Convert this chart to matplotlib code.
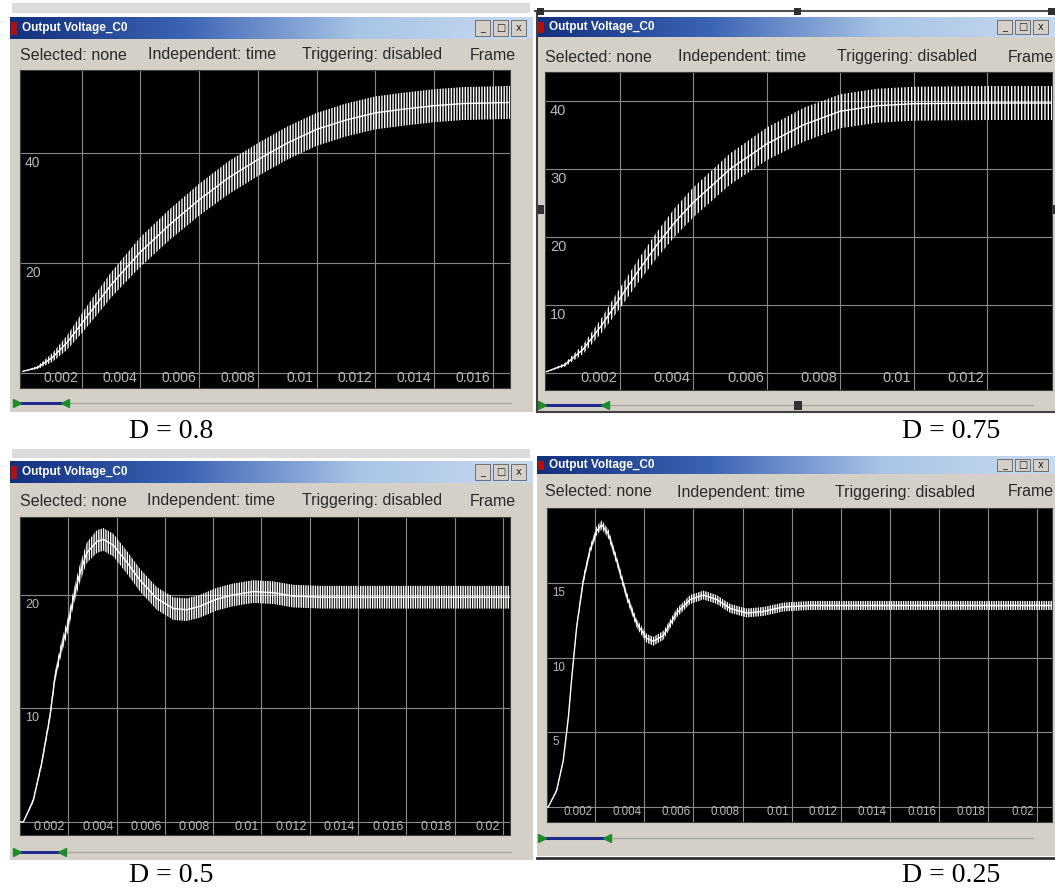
import numpy as np
import matplotlib
matplotlib.use("Agg")
import matplotlib.pyplot as plt
from matplotlib.patches import Rectangle
from matplotlib.colors import LinearSegmentedColormap
import matplotlib.transforms as mtransforms

plt.rcParams["hatch.linewidth"] = 1.0
plt.rcParams["hatch.color"] = "white"

W, H = 1055, 894

# output voltage: time (s), middle of the band (V), half ripple (V)
t_080 = [0, 0.0005, 0.001, 0.0015, 0.002, 0.0025, 0.003, 0.0035, 0.004, 0.005, 0.006,
         0.007, 0.008, 0.009, 0.010, 0.011, 0.012, 0.013, 0.014, 0.015, 0.0166]
v_080 = [0.3, 1.0, 2.8, 5.5, 9.0, 12.5, 16.0, 19.0, 22.0, 27.0, 31.5,
         35.5, 38.8, 41.8, 44.3, 46.0, 47.3, 48.0, 48.6, 49.0, 49.2]
r_080 = [0, 0.3, 0.8, 1.3, 1.8, 2.1, 2.3, 2.5, 2.7, 2.8, 2.9,
         3.0, 3.0, 3.0, 3.0, 3.0, 3.0, 3.0, 3.0, 3.0, 3.0]

t_075 = [0, 0.0005, 0.001, 0.0015, 0.002, 0.0025, 0.003, 0.0035, 0.004, 0.005, 0.006,
         0.007, 0.008, 0.009, 0.010, 0.012, 0.0138]
v_075 = [0.2, 1.2, 3.5, 7.0, 11.0, 15.0, 18.8, 22.2, 25.1, 30.0, 33.7,
         36.5, 38.5, 39.3, 39.6, 39.7, 39.7]
r_075 = [0, 0.3, 0.7, 1.1, 1.5, 1.7, 1.9, 2.1, 2.2, 2.3, 2.4,
         2.5, 2.5, 2.5, 2.5, 2.5, 2.5]

t_050 = [0, 0.00014, 0.00055, 0.0009, 0.00124, 0.00145, 0.00172, 0.0020, 0.0022, 0.00248,
         0.00276, 0.00318, 0.00345, 0.00386, 0.00442, 0.00497, 0.00566, 0.00635, 0.0069,
         0.00745, 0.0081, 0.0088, 0.00966, 0.0105, 0.0113, 0.0125, 0.014, 0.016, 0.018, 0.0203]
v_050 = [0, 0, 1.9, 5.2, 9.3, 12.8, 15.4, 17.5, 19.6, 21.9,
         23.7, 24.7, 24.9, 24.4, 22.9, 21.3, 19.7, 18.8, 18.7,
         19.0, 19.6, 20.0, 20.3, 20.2, 19.9, 19.8, 19.8, 19.8, 19.8, 19.8]
r_050 = [0, 0, 0.2, 0.3, 0.4, 0.5, 0.6, 0.7, 0.7, 0.8,
         0.9, 1.0, 1.0, 1.0, 1.0, 1.0, 1.0, 1.0, 1.0,
         1.0, 1.0, 1.0, 1.0, 1.0, 1.0, 1.0, 1.0, 1.0, 1.0, 1.0]

t_025 = [0, 0.00009, 0.00043, 0.0007, 0.00091, 0.00105, 0.00125, 0.00152, 0.00179, 0.00206,
         0.00227, 0.00254, 0.00288, 0.00329, 0.00369, 0.0041, 0.00437, 0.00478, 0.00532,
         0.00587, 0.00641, 0.00695, 0.0075, 0.00817, 0.00885, 0.00967, 0.01075, 0.013,
         0.016, 0.0207]
v_025 = [0, 0, 1.1, 3.1, 6.0, 8.7, 12.1, 15.2, 17.2, 18.5,
         18.9, 18.3, 16.5, 14.1, 12.3, 11.3, 11.1, 11.5, 13.0,
         13.9, 14.2, 13.9, 13.3, 13.0, 13.1, 13.4, 13.5, 13.5,
         13.5, 13.5]
r_025 = [0, 0, 0.1, 0.1, 0.2, 0.2, 0.2, 0.3, 0.3, 0.3,
         0.3, 0.3, 0.3, 0.3, 0.3, 0.3, 0.3, 0.3, 0.3,
         0.3, 0.3, 0.3, 0.3, 0.3, 0.3, 0.3, 0.3, 0.3,
         0.3, 0.3]

xt_080 = ["0.002", "0.004", "0.006", "0.008", "0.01", "0.012", "0.014", "0.016"]
xt_075 = ["0.002", "0.004", "0.006", "0.008", "0.01", "0.012"]
xt_050 = ["0.002", "0.004", "0.006", "0.008", "0.01", "0.012", "0.014", "0.016", "0.018", "0.02"]
xt_025 = xt_050
yt_080 = [20, 40]
yt_075 = [10, 20, 30, 40]
yt_050 = [10, 20]
yt_025 = [5, 10, 15]

duty_labels = ["D = 0.8", "D = 0.75", "D = 0.5", "D = 0.25"]
title_text = "Output Voltage_C0"
status_text = ["Selected: none", "Independent: time", "Triggering: disabled", "Frame"]

fig = plt.figure(figsize=(W / 100, H / 100), dpi=100)
fig.patch.set_facecolor("white")

bg = fig.add_axes([0, 0, 1, 1])
bg.axis("off")

title_cmap = LinearSegmentedColormap.from_list("tb", ["#12307e", "#3c64b4", "#a9c4e6", "#c8daf0"])
grad = np.linspace(0, 1, 256).reshape(1, -1)


def window(x0, x1, ty0, ty1, body_y1, status_y, status_xs, scroll_y, blue_x, fs):
    bg.add_patch(Rectangle((x0, ty1), x1 - x0, body_y1 - ty1, facecolor="#d4d0c8",
                           edgecolor="none", zorder=1))
    bg.imshow(grad, extent=(x0, x1, ty1, ty0), cmap=title_cmap, aspect="auto", zorder=2)
    bg.add_patch(Rectangle((x0 + 1, ty0 + 5), 6, ty1 - ty0 - 9, facecolor="#b01010",
                           edgecolor="none", zorder=3))
    bg.text(x0 + 12, (ty0 + ty1) / 2, title_text, color="white", fontsize=8.5,
            fontweight="bold", family="Liberation Sans", va="center", zorder=3)
    # min / max / close buttons
    for k, sym in enumerate(["_", "\u25a1", "x"]):
        bx = x1 - 58 + k * 18
        if bx + 15 > W:
            continue
        bg.add_patch(Rectangle((bx, ty0 + 3), 15, ty1 - ty0 - 6, facecolor="#d4d0c8",
                               edgecolor="#606060", lw=0.6, zorder=3))
        bg.text(bx + 7.5, (ty0 + ty1) / 2, sym, fontsize=7, ha="center", va="center",
                color="#222222", zorder=4)
    for sx, s in zip(status_xs, status_text):
        bg.text(sx, status_y, s, fontsize=fs, color="#2a2a2a", family="Liberation Sans",
                va="center", zorder=3)
    bg.plot([blue_x[0], x1 - 22], [scroll_y, scroll_y], color="#a8a8a0", lw=1, zorder=3)
    bg.plot(blue_x, [scroll_y, scroll_y], color="#202a8a", lw=2.2, zorder=4)
    bg.plot([blue_x[0]], [scroll_y], marker=">", color="#1f8a2a", ms=6, zorder=5)
    bg.plot([blue_x[1]], [scroll_y], marker="<", color="#1f8a2a", ms=6, zorder=5)


# fragments of windows above
bg.add_patch(Rectangle((12, 3), 518, 10, facecolor="#dcdcdc", edgecolor="none", zorder=1))
bg.add_patch(Rectangle((12, 449), 518, 9, facecolor="#dcdcdc", edgecolor="none", zorder=1))

window(10, 533, 17, 39, 412, 55, [20, 148, 302, 470], 403, [17, 65], 11.5)
window(537, W, 17, 37, 412, 57, [545, 678, 837, 1008], 405, [542, 605], 11.5)
window(10, 533, 461, 483, 860, 501, [20, 147, 302, 470], 852, [17, 62], 11.5)
window(537, W, 456, 474, 856, 492, [545, 677, 835, 1008], 838, [542, 607], 11.5)

# dark frame lines of the right-hand windows
bg.plot([535, W], [11, 11], color="#505050", lw=1.5, zorder=5)
bg.plot([537, 537], [11, 412], color="#404040", lw=1.5, zorder=5)
bg.plot([537, W], [412, 412], color="#404040", lw=1.5, zorder=5)
bg.plot([537, W], [858, 858], color="#303030", lw=2, zorder=5)
for hx in [540, 797, 1051]:
    bg.add_patch(Rectangle((hx - 3, 8), 7, 7, facecolor="#303030", zorder=6))
bg.add_patch(Rectangle((538, 205), 6, 9, facecolor="#303030", zorder=6))
bg.add_patch(Rectangle((1050, 205), 5, 9, facecolor="#303030", zorder=6))
bg.add_patch(Rectangle((794, 401), 8, 9, facecolor="#303030", zorder=6))

for (lx, ly), lab in zip([(171, 432), (951, 431), (171, 876), (951, 876)], duty_labels):
    bg.text(lx, ly, lab, fontsize=20, family="Liberation Serif", ha="center", va="center")

bg.set_xlim(0, W)
bg.set_ylim(H, 0)


def scope(box, xlim, ylim, t, v, r, xlabels, yticks, fs, hatch):
    l, tp, rt, bt = box
    ax = fig.add_axes([l / W, 1 - bt / H, (rt - l) / W, (bt - tp) / H])
    ax.set_facecolor("black")
    ax.set_xlim(*xlim)
    ax.set_ylim(*ylim)
    xt = [float(s) for s in xlabels]
    ax.set_xticks(xt)
    ax.set_yticks([0] + yticks)
    ax.tick_params(length=0, labelbottom=False, labelleft=False)
    ax.grid(True, color="#8a8a8a", lw=0.8)
    for sp in ax.spines.values():
        sp.set_color("#404040")
    t = np.array(t)
    v = np.array(v)
    r = np.array(r)
    ax.fill_between(t, v - r, v + r, facecolor="none", edgecolor="white",
                    hatch=hatch, lw=0, zorder=3)
    ax.plot(t, v, color="white", lw=1.0, zorder=4)
    trx = mtransforms.offset_copy(ax.transData, fig, x=-3, y=-5, units="dots")
    for x, s in zip(xt, xlabels):
        ax.text(x, 0, s, transform=trx, ha="right", va="center", fontsize=fs,
                color="#b8b8b8", family="Liberation Sans", zorder=5)
    tr = mtransforms.blended_transform_factory(ax.transAxes, ax.transData)
    try_ = mtransforms.offset_copy(tr, fig, x=5, y=-10, units="dots")
    for y in yticks:
        ax.text(0, y, str(y), transform=try_, ha="left", va="center", fontsize=fs,
                color="#b8b8b8", family="Liberation Sans", zorder=5)
    return ax


scope((20, 70, 510, 388), (-0.0001, 0.01659), (-2.73, 55.1), t_080, v_080, r_080,
      xt_080, yt_080, 10, "||||||")
scope((545, 72, 1052, 390), (-0.00004, 0.01376), (-2.5, 44.26), t_075, v_075, r_075,
      xt_075, yt_075, 10.5, "|||||")
scope((20, 517, 510, 835), (0, 0.02029), (-1.15, 26.87), t_050, v_050, r_050,
      xt_050, yt_050, 9, "|||||||")
scope((547, 508, 1052, 822), (0.00004, 0.0206), (-1.0, 20.03), t_025, v_025, r_025,
      xt_025, yt_025, 8.3, "|||||||")

fig.savefig("out.png", dpi=100, facecolor="white")
